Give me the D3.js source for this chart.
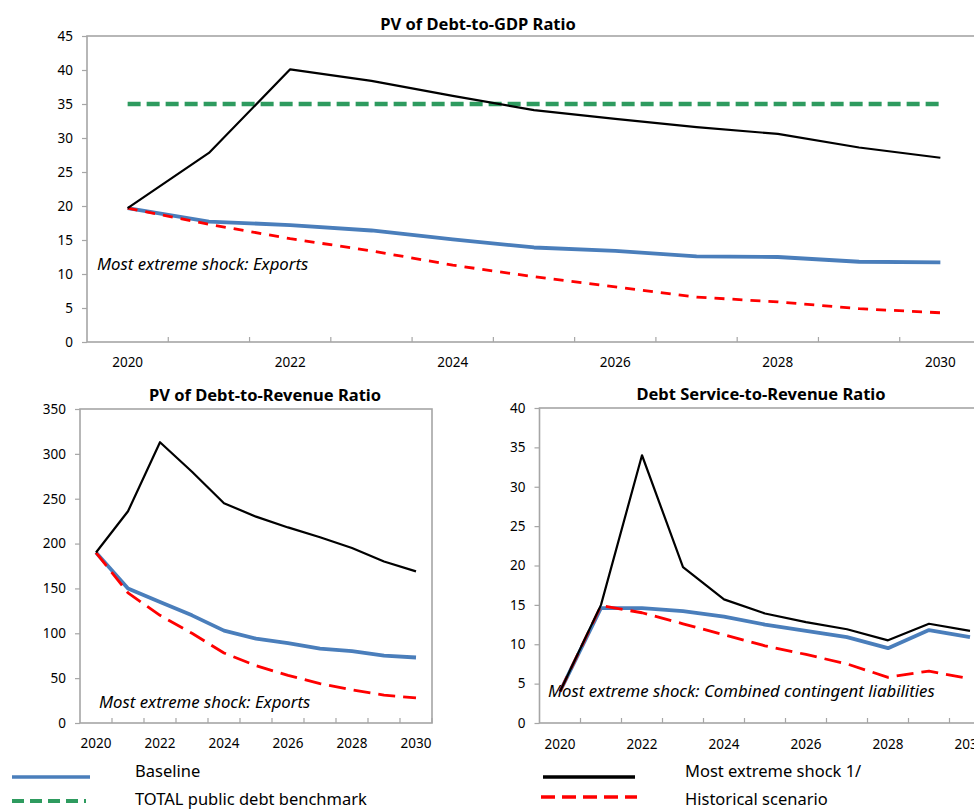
<!DOCTYPE html>
<html>
<head>
<meta charset="utf-8">
<script src="https://cdn.jsdelivr.net/npm/d3@7/dist/d3.min.js"></script>
<style>
  html, body { margin: 0; padding: 0; background: #fff; overflow: hidden; }
  svg { display: block; }
  text { font-family: "Noto Sans", "Open Sans", sans-serif; fill: #000; }
</style>
</head>
<body>
<svg id="chart" width="974" height="811"></svg>
<script>
// ---------- DATA ----------
const years = [2020, 2021, 2022, 2023, 2024, 2025, 2026, 2027, 2028, 2029, 2030];
const yearLabels = [2020, 2022, 2024, 2026, 2028, 2030];

// PV of Debt-to-GDP Ratio
const gdpBaseline   = [19.7, 17.7, 17.2, 16.4, 15.1, 13.9, 13.4, 12.6, 12.5, 11.8, 11.7];
const gdpShock      = [19.7, 27.8, 40.1, 38.4, 36.2, 34.1, 32.8, 31.6, 30.6, 28.6, 27.1];
const gdpHistorical = [19.7, 17.3, 15.2, 13.4, 11.3, 9.6, 8.1, 6.6, 5.9, 4.9, 4.3];
const gdpBenchmark  = [35, 35, 35, 35, 35, 35, 35, 35, 35, 35, 35];
const gdpTicks = [0, 5, 10, 15, 20, 25, 30, 35, 40, 45];

// PV of Debt-to-Revenue Ratio
const revBaseline   = [190, 150, 135, 120, 103, 94, 89, 83, 80, 75, 73];
const revShock      = [190, 236, 313, 280, 245, 230, 218, 207, 195, 180, 169];
const revHistorical = [190, 145, 120, 100, 78, 64, 53, 44, 37, 31, 28];
const revTicks = [0, 50, 100, 150, 200, 250, 300, 350];

// Debt Service-to-Revenue Ratio
const dsBaseline   = [4.0, 14.6, 14.6, 14.2, 13.5, 12.5, 11.7, 10.9, 9.5, 11.8, 10.9];
const dsShock      = [4.0, 15.0, 34.0, 19.8, 15.7, 13.9, 12.8, 11.9, 10.5, 12.6, 11.7];
const dsHistorical = [4.0, 14.9, 14.0, 12.6, 11.2, 9.8, 8.7, 7.5, 5.8, 6.6, 5.6];
const dsTicks = [0, 5, 10, 15, 20, 25, 30, 35, 40];

const legendItems = ["Baseline", "TOTAL public debt benchmark", "Most extreme shock 1/", "Historical scenario"];

// ---------- STYLES ----------
const COL = { baseline: "#4A7EBB", shock: "#000000", hist: "#FF0000", bench: "#2E9B5F", axis: "#A6A6A6" };

const svg = d3.select("#chart");

function panel(cfg) {
  const g = svg.append("g");
  const x = d3.scaleBand().domain(years).range([cfg.left, cfg.right]).padding(0);
  const y = d3.scaleLinear().domain([0, cfg.ymax]).range([cfg.bottom, cfg.top]);
  const cx = d => x(d) + x.bandwidth() / 2;

  // title
  g.append("text")
    .attr("x", cfg.titleX).attr("y", cfg.titleY)
    .attr("text-anchor", "middle")
    .attr("font-weight", "bold")
    .attr("font-size", 16.5)
    .text(cfg.title);

  // plot border
  g.append("rect")
    .attr("x", cfg.left).attr("y", cfg.top)
    .attr("width", cfg.right - cfg.left).attr("height", cfg.bottom - cfg.top)
    .attr("fill", "none").attr("stroke", COL.axis).attr("stroke-width", 1.6);

  // y axis ticks + labels
  const ya = d3.axisLeft(y).tickValues(cfg.ticks).tickSize(5).tickPadding(9).tickFormat(d3.format("d"));
  const yg = g.append("g").attr("transform", `translate(${cfg.left},0)`).call(ya);
  yg.select(".domain").remove();
  yg.selectAll("line").attr("stroke", COL.axis).attr("stroke-width", 1.2);
  yg.selectAll("text").attr("font-size", 13.5).attr("fill", "#000")
    .style("font-family", '"Noto Sans", "Open Sans", sans-serif');

  // x axis: inward ticks at category boundaries
  const boundaries = years.slice(1).map(d => x(d)).concat([cfg.right]);
  g.append("g").selectAll("line").data(boundaries).join("line")
    .attr("x1", d => d).attr("x2", d => d)
    .attr("y1", cfg.bottom).attr("y2", cfg.bottom - 5)
    .attr("stroke", COL.axis).attr("stroke-width", 1.2);

  // x labels
  g.append("g").selectAll("text").data(yearLabels).join("text")
    .attr("text-anchor", "middle")
    .attr("font-size", 13.5)
    .attr("x", d => cx(d))
    .attr("y", cfg.bottom + cfg.xLabelDy)
    .text(d => d);

  // annotation
  g.append("text")
    .attr("x", cfg.noteX).attr("y", cfg.noteY)
    .attr("font-style", "italic")
    .attr("font-size", 16.8)
    .text(cfg.note);

  const line = d3.line().x((d, i) => cx(years[i])).y(d => y(d));
  const clipId = "clip" + Math.round(cfg.left);
  svg.append("clipPath").attr("id", clipId).append("rect")
    .attr("x", cfg.left).attr("y", cfg.top - 10).attr("width", cfg.right - cfg.left + 20).attr("height", cfg.bottom - cfg.top + 10);
  const lg = g.append("g").attr("clip-path", `url(#${clipId})`);

  cfg.series.forEach(s => {
    lg.append("path")
      .datum(s.data)
      .attr("d", line)
      .attr("fill", "none")
      .attr("stroke", s.color)
      .attr("stroke-width", s.width)
      .attr("stroke-dasharray", s.dash || null)
      .attr("stroke-linejoin", "round");
  });
}

// Top chart
panel({
  title: "PV of Debt-to-GDP Ratio", titleX: 478, titleY: 30,
  left: 87, right: 981, top: 36, bottom: 342, ymax: 45, ticks: gdpTicks,
  xLabelDy: 25,
  note: "Most extreme shock: Exports", noteX: 97, noteY: 270,
  series: [
    { data: gdpBenchmark, color: COL.bench, width: 4.5, dash: "13,6" },
    { data: gdpBaseline, color: COL.baseline, width: 3.8 },
    { data: gdpHistorical, color: COL.hist, width: 2.8, dash: "10,8" },
    { data: gdpShock, color: COL.shock, width: 2.2 }
  ]
});

// Bottom-left chart
panel({
  title: "PV of Debt-to-Revenue Ratio", titleX: 265, titleY: 401,
  left: 80, right: 432, top: 409, bottom: 723, ymax: 350, ticks: revTicks,
  xLabelDy: 25,
  note: "Most extreme shock: Exports", noteX: 99, noteY: 708,
  series: [
    { data: revBaseline, color: COL.baseline, width: 3.8 },
    { data: revHistorical, color: COL.hist, width: 2.8, dash: "17,8" },
    { data: revShock, color: COL.shock, width: 2.2 }
  ]
});

// Bottom-right chart
panel({
  title: "Debt Service-to-Revenue Ratio", titleX: 761, titleY: 400,
  left: 539.5, right: 990.5, top: 408, bottom: 723, ymax: 40, ticks: dsTicks,
  xLabelDy: 26,
  note: "Most extreme shock: Combined contingent liabilities", noteX: 548, noteY: 697,
  series: [
    { data: dsBaseline, color: COL.baseline, width: 3.8 },
    { data: dsHistorical, color: COL.hist, width: 2.8, dash: "17,8" },
    { data: dsShock, color: COL.shock, width: 2.2 }
  ]
});

// Legend
const legend = [
  { label: legendItems[0], x1: 12, x2: 90, y: 777, color: COL.baseline, width: 3.5, dash: null, tx: 135, ty: 777 },
  { label: legendItems[1], x1: 12, x2: 86, y: 801, color: COL.bench, width: 4, dash: "12,6", tx: 135, ty: 805 },
  { label: legendItems[2], x1: 543, x2: 635, y: 777, color: COL.shock, width: 3.5, dash: null, tx: 685, ty: 777 },
  { label: legendItems[3], x1: 541, x2: 637, y: 797, color: COL.hist, width: 3.5, dash: "14,7", tx: 685, ty: 805 }
];
const lgG = svg.append("g");
legend.forEach(l => {
  lgG.append("line").attr("x1", l.x1).attr("x2", l.x2).attr("y1", l.y).attr("y2", l.y)
    .attr("stroke", l.color).attr("stroke-width", l.width).attr("stroke-dasharray", l.dash);
  lgG.append("text").attr("x", l.tx).attr("y", l.ty).attr("font-size", 16.5).text(l.label);
});
</script>
</body>
</html>
